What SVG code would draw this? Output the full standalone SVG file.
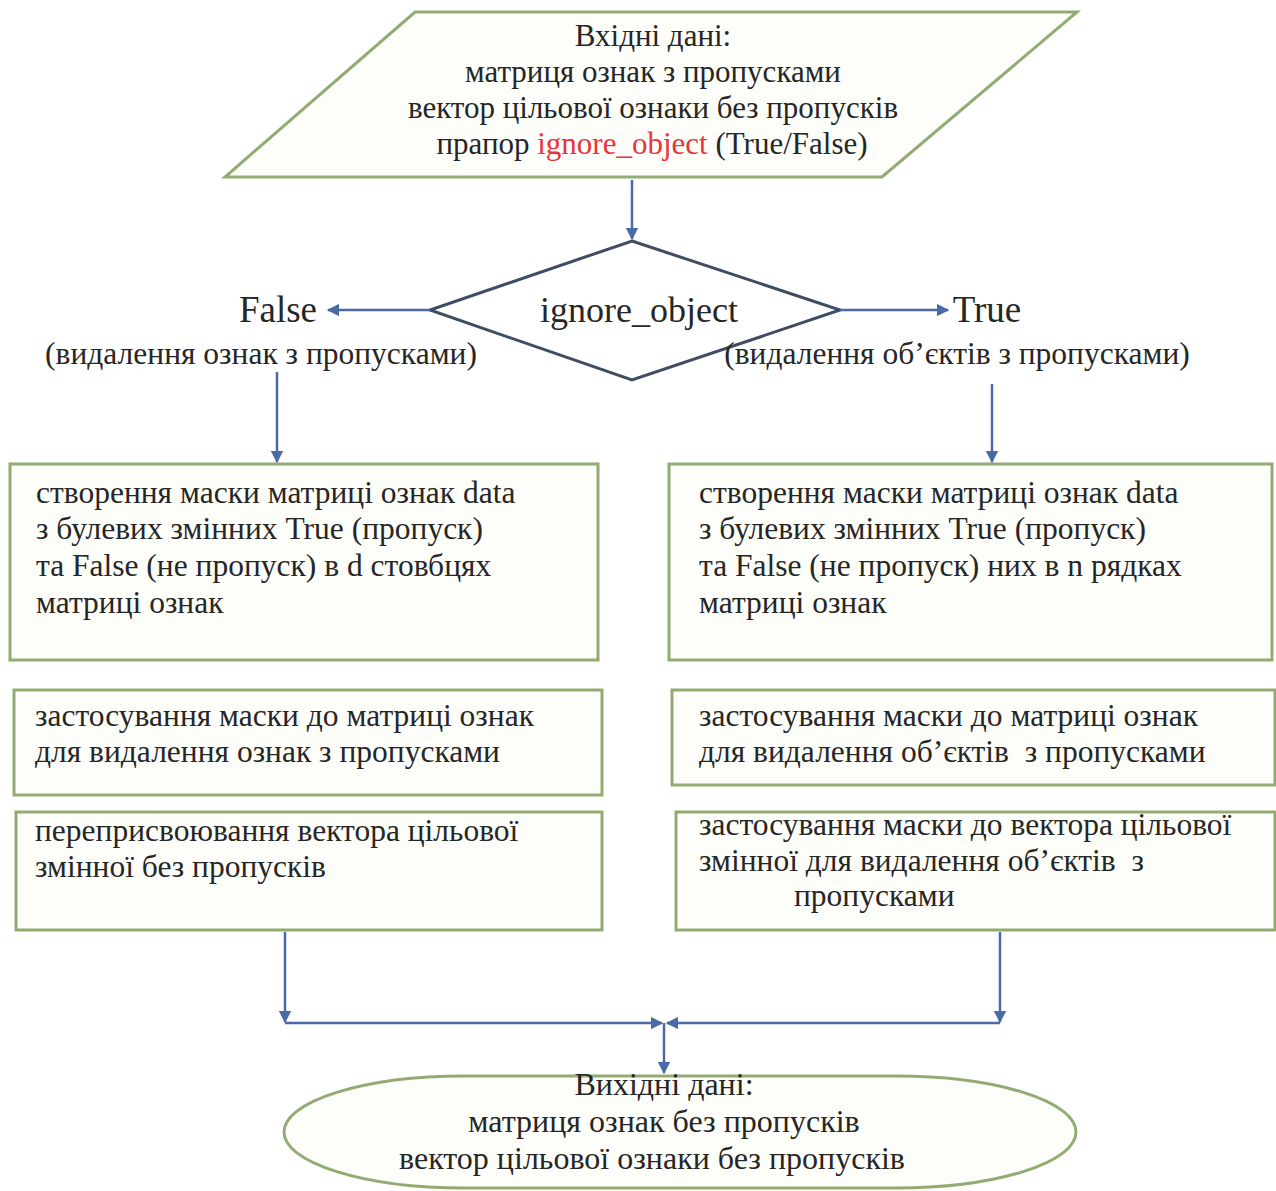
<svg xmlns="http://www.w3.org/2000/svg" width="1276" height="1191" viewBox="0 0 1276 1191">
<style>
.box{fill:#fdfef9;stroke:#92ab72;stroke-width:3}
.dia{fill:#ffffff;stroke:#3f4d63;stroke-width:3}
.t{font-family:"Liberation Serif","Times New Roman",serif;fill:#262626}
.c{text-anchor:middle}
.b{font-size:31.5px}
.con{stroke:#4a6aa5;stroke-width:2.5;fill:none}
</style>
<defs>
<marker id="ah" viewBox="0 0 10 10" refX="9" refY="5" markerWidth="5" markerHeight="5" orient="auto-start-reverse">
<path d="M0,0 L10,5 L0,10 z" fill="#4a6aa5"/>
</marker>
</defs>
<rect width="1276" height="1191" fill="#ffffff"/>

<g id="input">
<polygon class="box" points="415,12 1077,12 882,177 225,177"/>
<text class="t c" font-size="31" x="653" y="46">Вхідні дані:</text>
<text class="t c" font-size="31" x="653" y="82">матриця ознак з пропусками</text>
<text class="t c" font-size="31" x="653" y="118">вектор цільової ознаки без пропусків</text>
<text class="t c" font-size="31" x="652" y="154">прапор <tspan fill="#e8343a">ignore_object</tspan> (True/False)</text>
</g>

<g id="decision">
<polygon class="dia" points="632,241 840,310 632,380 430,310"/>
<text class="t c" font-size="36" x="639" y="322">ignore_object</text>
</g>

<g id="label-false">
<text class="t c" font-size="37" x="278" y="322">False</text>
<text class="t c" font-size="31.5" x="261" y="364">(видалення ознак з пропусками)</text>
</g>

<g id="label-true">
<text class="t c" font-size="37" x="987" y="322">True</text>
<text class="t c" font-size="31.5" x="957" y="364">(видалення об’єктів з пропусками)</text>
</g>

<g id="left-mask">
<rect class="box" x="10" y="464" width="588" height="196"/>
<text class="t b" x="36" y="503">створення маски матриці ознак data</text>
<text class="t b" x="36" y="539">з булевих змінних True (пропуск)</text>
<text class="t b" x="36" y="576">та False (не пропуск) в d стовбцях</text>
<text class="t b" x="36" y="613">матриці ознак</text>
</g>

<g id="right-mask">
<rect class="box" x="669" y="464" width="603" height="196"/>
<text class="t b" x="699" y="503">створення маски матриці ознак data</text>
<text class="t b" x="699" y="539">з булевих змінних True (пропуск)</text>
<text class="t b" x="699" y="576">та False (не пропуск) них в n рядках</text>
<text class="t b" x="699" y="613">матриці ознак</text>
</g>

<g id="left-apply">
<rect class="box" x="14" y="690" width="588" height="105"/>
<text class="t b" x="35" y="726">застосування маски до матриці ознак</text>
<text class="t b" x="35" y="762">для видалення ознак з пропусками</text>
</g>

<g id="right-apply">
<rect class="box" x="672" y="690" width="603" height="95"/>
<text class="t b" x="699" y="726">застосування маски до матриці ознак</text>
<text class="t b" x="699" y="762" xml:space="preserve">для видалення об’єктів  з пропусками</text>
</g>

<g id="left-target">
<rect class="box" x="16" y="812" width="586" height="118"/>
<text class="t b" x="35" y="841">переприсвоювання вектора цільової</text>
<text class="t b" x="35" y="877">змінної без пропусків</text>
</g>

<g id="right-target">
<rect class="box" x="676" y="812" width="599" height="118"/>
<text class="t b" x="699" y="835">застосування маски до вектора цільової</text>
<text class="t b" x="699" y="871" xml:space="preserve">змінної для видалення об’єктів  з</text>
<text class="t b" x="794" y="906">пропусками</text>
</g>

<g id="output">
<rect class="box" x="284" y="1076" width="792" height="112" rx="180" ry="56"/>
<text class="t c" font-size="32" x="664" y="1095">Вихідні дані:</text>
<text class="t c" font-size="32" x="664" y="1132">матриця ознак без пропусків</text>
<text class="t c" font-size="32" x="652" y="1169">вектор цільової ознаки без пропусків</text>
</g>

<g id="connectors">
<line class="con" x1="632" y1="180" x2="632" y2="239" marker-end="url(#ah)"/>
<line class="con" x1="430" y1="310" x2="328" y2="310" marker-end="url(#ah)"/>
<line class="con" x1="840" y1="310" x2="948" y2="310" marker-end="url(#ah)"/>
<line class="con" x1="277" y1="372" x2="277" y2="462" marker-end="url(#ah)"/>
<line class="con" x1="992" y1="384" x2="992" y2="462" marker-end="url(#ah)"/>
<line class="con" x1="285" y1="932" x2="285" y2="1022" marker-end="url(#ah)"/>
<line class="con" x1="1000" y1="932" x2="1000" y2="1022" marker-end="url(#ah)"/>
<line class="con" x1="285" y1="1023" x2="662" y2="1023" marker-end="url(#ah)"/>
<line class="con" x1="1000" y1="1023" x2="667" y2="1023" marker-end="url(#ah)"/>
<line class="con" x1="664" y1="1023" x2="664" y2="1073" marker-end="url(#ah)"/>
</g>
</svg>
